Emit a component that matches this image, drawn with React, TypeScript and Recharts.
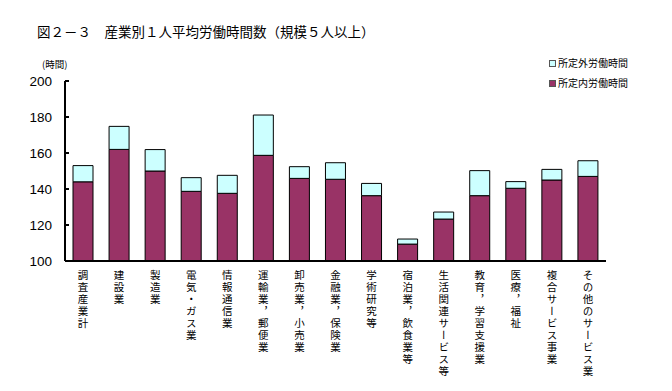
import React from 'react';
import { BarChart, Bar, XAxis, YAxis } from 'recharts';

// 産業別 1人平均月間労働時間（規模5人以上）
const categories = [
  '調査産業計',
  '建設業',
  '製造業',
  '電気・ガス業',
  '情報通信業',
  '運輸業，郵便業',
  '卸売業，小売業',
  '金融業，保険業',
  '学術研究等',
  '宿泊業，飲食業等',
  '生活関連サービス等',
  '教育，学習支援業',
  '医療，福祉',
  '複合サービス事業',
  'その他のサービス業',
];
// 所定内労働時間
const scheduled = [144, 162, 150, 138.7, 137.6, 158.7, 145.9, 145.4, 136.3, 109.4, 123.3, 136.3, 140.4, 145, 147];
// 所定外労働時間
const overtime = [9, 12.8, 11.9, 7.6, 10, 22.4, 6.5, 9.2, 6.8, 2.8, 3.9, 13.9, 3.7, 5.9, 8.7];
const yTicks = [100, 120, 140, 160, 180, 200];

const data = categories.map((name, i) => ({
  name,
  inner: scheduled[i],
  outer: overtime[i],
}));

const JP = '"Noto Sans CJK JP", sans-serif';
const DARK = '#993366';
const LIGHT = '#CCFFFF';

const YTick = ({ x, y, payload }: any) => (
  <g>
    <line x1={x} y1={y} x2={x + 4} y2={y} stroke="#000" strokeWidth={2} />
    <text x={x - 13} y={y} dy="0.36em" textAnchor="end" fontSize={13.5} fill="#000" fontFamily='"Liberation Sans", Arial, sans-serif'>
      {payload.value}
    </text>
  </g>
);

const XTick = ({ x, y, payload }: any) => (
  <text
    x={x}
    y={y + 9}
    fontSize={10.5}
    fill="#000"
    fontFamily={JP}
    style={{ writingMode: 'vertical-rl', letterSpacing: '1.5px' }}
  >
    {payload.value}
  </text>
);

const LegendItem = ({ color, label, top }: { color: string; label: string; top: number }) => (
  <div style={{ position: 'absolute', left: 549, top, display: 'flex', alignItems: 'center', fontFamily: JP, fontSize: 10, lineHeight: 1 }}>
    <span style={{ width: 5, height: 5, background: color, border: '1px solid #555', marginRight: 2 }} />
    <span>{label}</span>
  </div>
);

export default function App() {
  return (
    <div style={{ position: 'absolute', left: 0, top: 0, width: 672, height: 391, background: '#fff' }}>
      <div style={{ position: 'absolute', left: 37, top: 25, fontFamily: JP, fontSize: 13.5, lineHeight: 1, whiteSpace: 'nowrap' }}>
        図２－３　産業別１人平均労働時間数（規模５人以上）
      </div>
      <div style={{ position: 'absolute', left: 42, top: 60, fontFamily: JP, fontSize: 9.5, lineHeight: 1 }}>(時間)</div>
      <LegendItem color={LIGHT} label="所定外労働時間" top={58} />
      <LegendItem color={DARK} label="所定内労働時間" top={78} />
      <BarChart
        width={672}
        height={391}
        data={data}
        margin={{ top: 81, right: 66, bottom: 10, left: 0 }}
        barSize={20}
      >
        <XAxis
          dataKey="name"
          interval={0}
          height={120}
          tick={<XTick />}
          tickLine={false}
          tickSize={0}
          tickMargin={0}
          axisLine={{ stroke: '#000', strokeWidth: 2 }}
        />
        <YAxis
          type="number"
          domain={[100, 200]}
          ticks={yTicks}
          allowDataOverflow
          width={65}
          tickLine={false}
          tickSize={0}
          tickMargin={0}
          tick={<YTick />}
          axisLine={{ stroke: '#000', strokeWidth: 2 }}
        />
        <Bar dataKey="inner" stackId="a" fill={DARK} stroke="#000" strokeWidth={1} isAnimationActive={false} />
        <Bar dataKey="outer" stackId="a" fill={LIGHT} stroke="#000" strokeWidth={1} isAnimationActive={false} />
      </BarChart>
    </div>
  );
}
